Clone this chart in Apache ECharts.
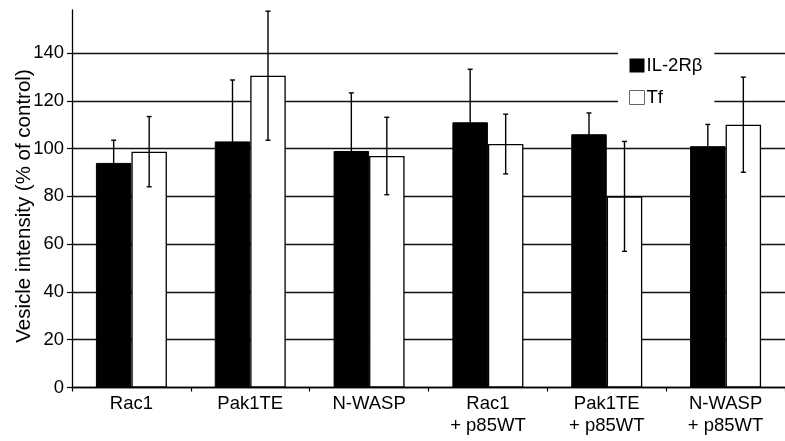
<!DOCTYPE html>
<html>
<head>
<meta charset="utf-8">
<script src="https://cdn.jsdelivr.net/npm/echarts@6/dist/echarts.min.js"></script>
<style>
html,body{margin:0;padding:0;background:#fff;}
#chart{width:785px;height:441px;}
</style>
</head>
<body>
<div id="chart"></div>
<script>
var categories = ['Rac1', 'Pak1TE', 'N-WASP', 'Rac1\n+ p85WT', 'Pak1TE\n+ p85WT', 'N-WASP\n+ p85WT'];
var il2rbValues = [94, 103, 99, 111, 106, 101];
var il2rbErrors = [9.5, 25.7, 24.3, 22.2, 8.9, 9.1];
var tfValues = [98.7, 130.5, 96.9, 101.9, 80, 110];
var tfErrors = [14.7, 27, 16.2, 12.5, 23, 19.9];
var yTickValues = [0, 20, 40, 60, 80, 100, 120, 140];
var seriesNames = ['IL-2R\u03b2', 'Tf'];

var FONT = 'Liberation Sans, Arial, Helvetica, sans-serif';
var BAR_W = 35.5;

function errorData(vals, errs) {
  return vals.map(function (v, i) { return [i, v - errs[i], v + errs[i]]; });
}
function errorRenderer(offset) {
  return function (params, api) {
    var i = api.value(0);
    var lo = api.coord([i, api.value(1)]);
    var hi = api.coord([i, api.value(2)]);
    var x = lo[0] + offset;
    var cap = 2.5;
    var st = { stroke: '#000', lineWidth: 1.4 };
    return {
      type: 'group',
      children: [
        { type: 'line', shape: { x1: x, y1: lo[1], x2: x, y2: hi[1] }, style: st },
        { type: 'line', shape: { x1: x - cap, y1: lo[1], x2: x + cap, y2: lo[1] }, style: st },
        { type: 'line', shape: { x1: x - cap, y1: hi[1], x2: x + cap, y2: hi[1] }, style: st }
      ]
    };
  };
}

var chart = echarts.init(document.getElementById('chart'), null, { renderer: 'canvas' });
chart.setOption({
  backgroundColor: '#fff',
  animation: false,
  textStyle: { fontFamily: FONT },
  grid: { left: 72, right: -14.5, top: 10, bottom: 53.5, containLabel: false },
  legend: {
    orient: 'vertical',
    left: 618,
    top: 45,
    backgroundColor: '#fff',
    padding: [11, 12, 7, 11],
    itemWidth: 15,
    itemHeight: 14,
    itemGap: 13,
    icon: 'rect',
    textStyle: { fontSize: 18.5, color: '#000', fontFamily: FONT, lineHeight: 18, padding: [0, 0, 0, -3] },
    data: [
      { name: seriesNames[0], itemStyle: { color: '#000', borderWidth: 0 } },
      { name: seriesNames[1], itemStyle: { color: '#fff', borderColor: '#666', borderWidth: 1 } }
    ],
    z: 10
  },
  xAxis: {
    type: 'category',
    data: categories,
    axisLine: { show: true, lineStyle: { color: '#000', width: 1.3 } },
    axisTick: { show: true, length: 4, inside: false, alignWithLabel: false, lineStyle: { color: '#000', width: 1.2 } },
    axisLabel: { interval: 0, fontSize: 18.5, color: '#000', fontFamily: FONT, lineHeight: 22, margin: 5 },
    splitLine: { show: false }
  },
  yAxis: {
    type: 'value',
    min: 0,
    max: 158,
    interval: 20,
    axisLine: { show: true, lineStyle: { color: '#000', width: 1.3 } },
    axisTick: { show: true, length: 5, inside: false, customValues: yTickValues, lineStyle: { color: '#000', width: 1.2 } },
    axisLabel: { customValues: yTickValues, fontSize: 18.5, color: '#000', fontFamily: FONT, margin: 8 },
    splitLine: { show: true, lineStyle: { color: '#111', width: 1.3 } }
  },
  graphic: [{
    type: 'text',
    x: 24,
    y: 206,
    rotation: Math.PI / 2,
    style: {
      text: 'Vesicle intensity (% of control)',
      fontSize: 20.5,
      fontFamily: FONT,
      fill: '#000',
      align: 'center',
      verticalAlign: 'middle'
    }
  }],
  series: [
    {
      name: seriesNames[0],
      type: 'bar',
      data: il2rbValues,
      barWidth: BAR_W,
      barGap: '0%',
      itemStyle: { color: '#000', borderColor: '#000', borderWidth: 1 },
      z: 2
    },
    {
      name: seriesNames[1],
      type: 'bar',
      data: tfValues,
      barWidth: BAR_W,
      barGap: '0%',
      itemStyle: { color: '#fff', borderColor: '#000', borderWidth: 1.3 },
      z: 2
    },
    {
      name: 'il2rbErr',
      type: 'custom',
      data: errorData(il2rbValues, il2rbErrors),
      renderItem: errorRenderer(-BAR_W / 2),
      encode: { x: 0, y: [1, 2] },
      z: 5,
      silent: true
    },
    {
      name: 'tfErr',
      type: 'custom',
      data: errorData(tfValues, tfErrors),
      renderItem: errorRenderer(BAR_W / 2),
      encode: { x: 0, y: [1, 2] },
      z: 5,
      silent: true
    }
  ]
});
</script>
</body>
</html>
